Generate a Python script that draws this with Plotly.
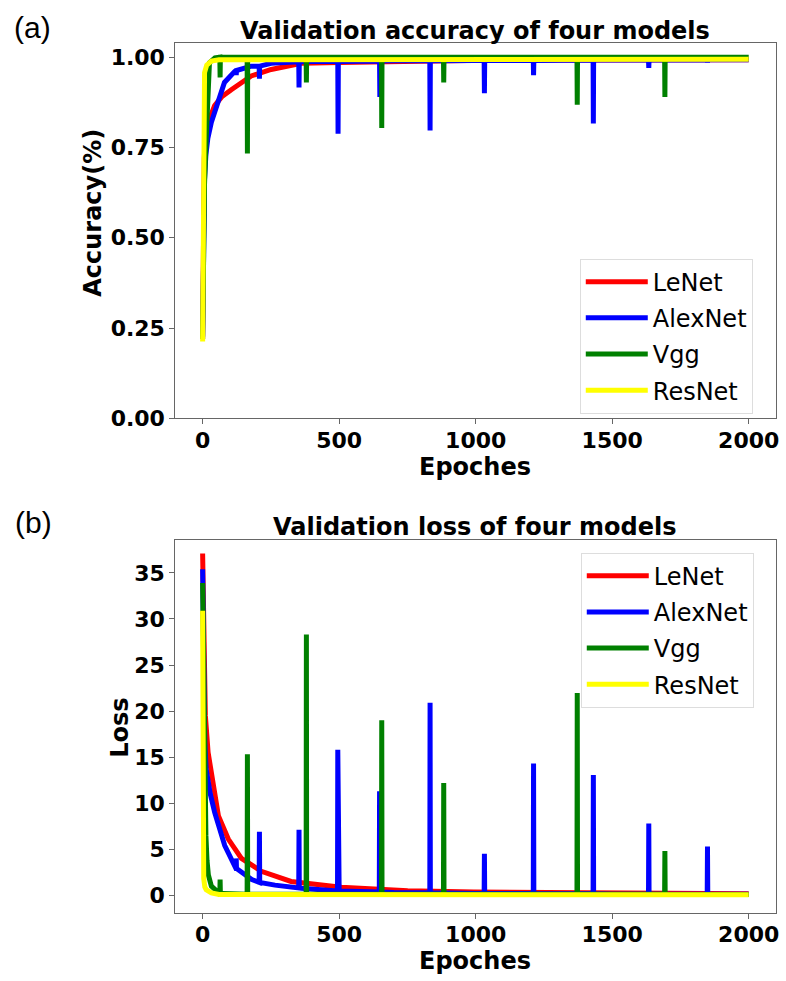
import plotly.graph_objects as go

W, H = 786, 981

# ---------------- data ----------------
models = ["LeNet", "AlexNet", "Vgg", "ResNet"]
colors = ["red", "blue", "green", "yellow"]

# Accuracy: base curves
acc_lenet_x = [0, 3, 6, 10, 20, 44, 70, 105, 140, 178, 251, 362, 500, 606, 800, 971, 1300, 1600, 2000]
acc_lenet_y = [0.22, 0.55, 0.72, 0.78, 0.82, 0.866, 0.89, 0.91, 0.93, 0.948, 0.966, 0.983, 0.985, 0.987, 0.989, 0.991, 0.992, 0.993, 0.993]
acc_alex_x = [0, 3, 7, 12, 19, 32, 56, 80, 117, 178, 251, 300, 400, 700, 1000, 1500, 2000]
acc_alex_y = [0.226, 0.5, 0.664, 0.73, 0.775, 0.82, 0.875, 0.93, 0.96, 0.975, 0.983, 0.985, 0.988, 0.99, 0.991, 0.992, 0.993]
acc_vgg_x = [0, 3, 7, 13, 20, 25, 45, 100, 2000]
acc_vgg_y = [0.22, 0.45, 0.65, 0.775, 0.95, 0.985, 0.998, 1.0, 1.0]
acc_res_x = [0, 3, 7, 15, 32, 60, 2000]
acc_res_y = [0.213, 0.6, 0.957, 0.978, 0.989, 0.993, 0.994]

# Accuracy: dips (epoch, level around, dip value)
acc_alex_spk_x = [123, 208, 353, 496, 649, 833, 1032, 1212, 1431, 1634, 1849]
acc_alex_spk_b = [0.963, 0.975, 0.987, 0.988, 0.989, 0.99, 0.991, 0.991, 0.992, 0.992, 0.993]
acc_alex_spk_v = [0.95, 0.94, 0.916, 0.788, 0.89, 0.797, 0.90, 0.95, 0.816, 0.97, 0.985]
acc_vgg_spk_x = [64, 164, 380, 656, 883, 1372, 1693]
acc_vgg_spk_b = [1.0, 1.0, 1.0, 1.0, 1.0, 1.0, 1.0]
acc_vgg_spk_v = [0.944, 0.733, 0.93, 0.804, 0.93, 0.868, 0.89]

# Loss: base curves
loss_lenet_x = [0, 3, 6, 10, 20, 34, 58, 94, 142, 215, 324, 508, 751, 993, 1500, 2000]
loss_lenet_y = [37.1, 30, 24, 19.5, 15.5, 12.9, 8.6, 6.1, 4.0, 2.6, 1.5, 0.86, 0.5, 0.35, 0.2, 0.15]
loss_alex_x = [0, 2, 5, 8, 13, 28, 44, 81, 123, 180, 265, 362, 500, 700, 1000, 1500, 2000]
loss_alex_y = [35.4, 28, 21, 16.5, 13.7, 11.0, 9.0, 5.4, 2.9, 1.7, 1.1, 0.75, 0.45, 0.3, 0.2, 0.12, 0.1]
loss_vgg_x = [0, 3, 6, 9, 12, 16, 21, 32, 50, 75, 110, 2000]
loss_vgg_y = [33.9, 26, 16, 10, 6.5, 3.8, 2.2, 1.0, 0.43, 0.2, 0.12, 0.08]
loss_res_x = [0, 1, 2, 4, 8, 13, 32, 60, 2000]
loss_res_y = [30.9, 18, 6, 1.8, 0.9, 0.6, 0.25, 0.08, 0.05]

# Loss: spikes (epoch, level around, peak value)
loss_alex_spk_x = [123, 208, 353, 495, 648, 833, 1032, 1212, 1431, 1634, 1849]
loss_alex_spk_b = [2.9, 1.4, 0.8, 0.45, 0.35, 0.28, 0.2, 0.18, 0.15, 0.12, 0.1]
loss_alex_spk_v = [4.0, 6.9, 7.1, 15.8, 11.3, 20.9, 4.5, 14.3, 13.05, 7.8, 5.3]
loss_vgg_spk_x = [64, 164, 380, 656, 883, 1372, 1693]
loss_vgg_spk_b = [0.15, 0.1, 0.1, 0.1, 0.1, 0.1, 0.1]
loss_vgg_spk_v = [1.7, 15.3, 28.3, 19.0, 12.2, 21.95, 4.8]

x_ticks = [0, 500, 1000, 1500, 2000]
acc_ticks = [0.0, 0.25, 0.5, 0.75, 1.0]
loss_ticks = [0, 5, 10, 15, 20, 25, 30, 35]


def with_spikes(bx, by, sx=(), sb=(), sv=()):
    pts = list(zip(bx, by))
    for e, b, v in zip(sx, sb, sv):
        pts += [(e - 1, b), (e, v), (e + 1, b)]
    pts.sort(key=lambda p: p[0])
    return [p[0] for p in pts], [p[1] for p in pts]


acc_series = [
    with_spikes(acc_lenet_x, acc_lenet_y),
    with_spikes(acc_alex_x, acc_alex_y, acc_alex_spk_x, acc_alex_spk_b, acc_alex_spk_v),
    with_spikes(acc_vgg_x, acc_vgg_y, acc_vgg_spk_x, acc_vgg_spk_b, acc_vgg_spk_v),
    with_spikes(acc_res_x, acc_res_y),
]
loss_series = [
    with_spikes(loss_lenet_x, loss_lenet_y),
    with_spikes(loss_alex_x, loss_alex_y, loss_alex_spk_x, loss_alex_spk_b, loss_alex_spk_v),
    with_spikes(loss_vgg_x, loss_vgg_y, loss_vgg_spk_x, loss_vgg_spk_b, loss_vgg_spk_v),
    with_spikes(loss_res_x, loss_res_y),
]

# ---------------- figure ----------------
def px(x):
    return x / W


def py(y):
    return 1 - y / H


fig = go.Figure()
for name, col, (xs, ys) in zip(models, colors, acc_series):
    fig.add_trace(go.Scatter(x=xs, y=ys, mode="lines", name=name,
                             line=dict(color=col, width=5),
                             xaxis="x", yaxis="y", legend="legend",
                             legendgroup="a" + name, hoverinfo="skip"))
for name, col, (xs, ys) in zip(models, colors, loss_series):
    fig.add_trace(go.Scatter(x=xs, y=ys, mode="lines", name=name,
                             line=dict(color=col, width=5),
                             xaxis="x2", yaxis="y2", legend="legend2",
                             legendgroup="b" + name, hoverinfo="skip"))

BOLD = dict(family="DejaVu Sans", size=22, color="black", weight="bold")
axis_common = dict(showline=True, mirror=True, linecolor="#666", linewidth=1,
                   ticks="outside", ticklen=5, tickcolor="#666", showgrid=False,
                   zeroline=False, tickfont=BOLD)

LEG = dict(xanchor="left", yanchor="top", bgcolor="white", bordercolor="#ddd",
           borderwidth=1, font=dict(family="DejaVu Sans", size=24, color="black"),
           tracegroupgap=2, itemwidth=62)

fig.update_layout(
    width=W, height=H, margin=dict(l=0, r=0, t=0, b=0),
    paper_bgcolor="white", plot_bgcolor="white",
    xaxis=dict(domain=[px(176), px(779)], range=[-100, 2100], anchor="y",
               tickvals=x_ticks, ticklabelstandoff=-3, **axis_common),
    yaxis=dict(domain=[py(424), py(44)], range=[0, 1.038], anchor="x",
               tickvals=acc_ticks, tickformat=".2f", **axis_common),
    xaxis2=dict(domain=[px(176), px(779)], range=[-100, 2100], anchor="y2",
                tickvals=x_ticks, ticklabelstandoff=-3, **axis_common),
    yaxis2=dict(domain=[py(925), py(547)], range=[-1.9, 38.6], anchor="x2",
                tickvals=loss_ticks, **axis_common),
    legend=dict(x=px(582), y=py(262), **LEG),
    legend2=dict(x=px(583), y=py(560), **LEG),
    hovermode=False,
)

TITLE = dict(family="DejaVu Sans", size=24, color="black", weight="bold")
ann = [
    dict(text="Validation accuracy of four models", x=px(477), y=py(31), font=TITLE),
    dict(text="Validation loss of four models", x=px(477), y=py(534), font=TITLE),
    dict(text="Epoches", x=px(477), y=py(473), font=TITLE),
    dict(text="Epoches", x=px(477), y=py(974), font=TITLE),
    dict(text="Accuracy(%)", x=px(93), y=py(216), font=TITLE, textangle=-90),
    dict(text="Loss", x=px(121), y=py(738), font=TITLE, textangle=-90),
    dict(text="(a)", x=px(33), y=py(28), font=dict(family="Liberation Sans", size=30, color="black")),
    dict(text="(b)", x=px(34), y=py(530), font=dict(family="Liberation Sans", size=30, color="black")),
]
for a in ann:
    fig.add_annotation(xref="paper", yref="paper", xanchor="center", yanchor="middle",
                       showarrow=False, **a)

fig.write_html("out.html")
